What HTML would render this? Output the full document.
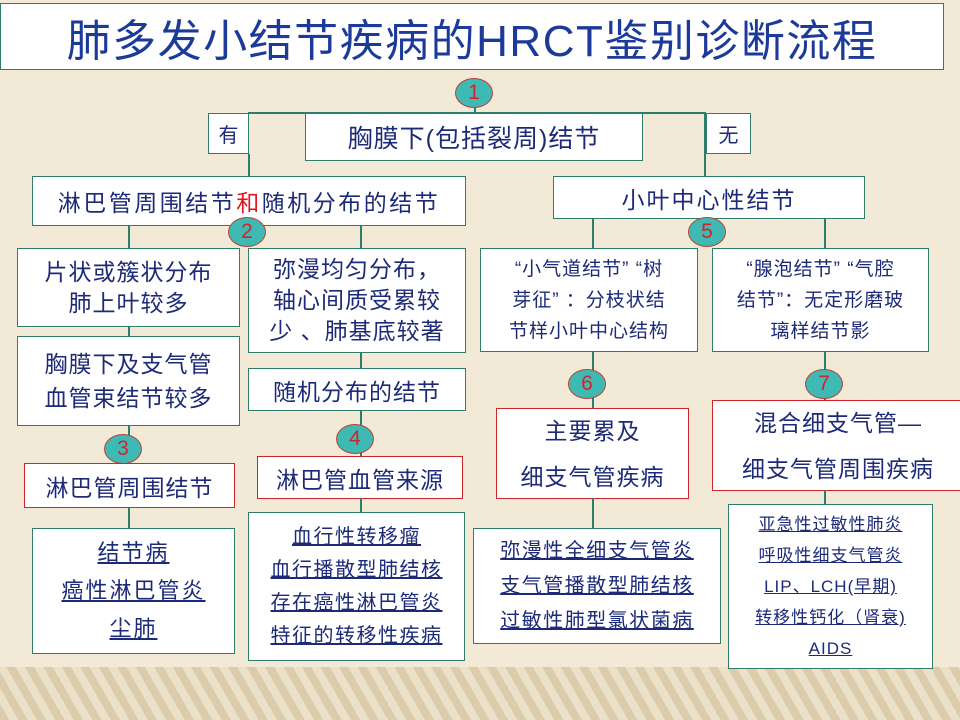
<!DOCTYPE html>
<html><head><meta charset="utf-8"><style>
body{margin:0}
#c{position:relative;width:960px;height:720px;overflow:hidden;background:#f2e9d6;font-family:"Liberation Sans","Noto Sans CJK SC",sans-serif;color:#1c2a78}
.b{position:absolute;background:#fff;border:1.5px solid #2e7d6a;box-sizing:border-box;display:flex;flex-direction:column;align-items:center;justify-content:center;text-align:center}
.r{border-color:#d0252b}
.l{position:absolute;background:#2e7d6a}
.o{position:absolute;width:38px;height:30px;border-radius:50%;background:#3fb9b4;border:1.5px solid #b5453a;box-sizing:border-box;color:#d0252b;font-size:21px;display:flex;align-items:center;justify-content:center}
.u span{text-decoration:underline}
#band{position:absolute;left:0;top:667px;width:960px;height:53px;background:repeating-linear-gradient(60deg,#d9c8a4 0 8px,#eadfc6 8px 16px),#e0d0ae;opacity:.85}
</style></head><body><div id="c">
<div id="band"></div>
<div class="b" style="left:0;top:3px;width:944px;height:67px;font-size:44px;color:#1b3a9a;letter-spacing:1.5px">肺多发小结节疾病的HRCT鉴别诊断流程</div>
<div class="l" style="left:248px;top:112px;width:458px;height:1.5px"></div>
<div class="l" style="left:474px;top:105px;width:1.5px;height:8px"></div>
<div class="o" style="left:455px;top:78px">1</div>
<div class="b" style="left:208px;top:113px;width:41px;height:41px;font-size:20px">有</div>
<div class="b" style="left:305px;top:113px;width:338px;height:48px;font-size:25px;letter-spacing:1px">胸膜下(包括裂周)结节</div>
<div class="b" style="left:706px;top:113px;width:45px;height:41px;font-size:20px">无</div>
<div class="l" style="left:248px;top:154px;width:1.5px;height:22px"></div>
<div class="l" style="left:704px;top:113px;width:1.5px;height:63px"></div>
<div class="b" style="left:32px;top:176px;width:434px;height:50px;font-size:23px;letter-spacing:2.5px"><div>淋巴管周围结节<span style="color:#e0141b">和</span>随机分布的结节</div></div>
<div class="b" style="left:553px;top:176px;width:312px;height:43px;font-size:23px;letter-spacing:2px">小叶中心性结节</div>
<div class="l" style="left:128px;top:225px;width:1.5px;height:23px"></div>
<div class="l" style="left:360px;top:225px;width:1.5px;height:23px"></div>
<div class="l" style="left:592px;top:218px;width:1.5px;height:30px"></div>
<div class="l" style="left:824px;top:218px;width:1.5px;height:30px"></div>
<div class="o" style="left:228px;top:217px">2</div>
<div class="o" style="left:688px;top:217px">5</div>
<div class="b" style="left:17px;top:248px;width:223px;height:79px;font-size:23px;line-height:31px;letter-spacing:1px">片状或簇状分布<br>肺上叶较多</div>
<div class="l" style="left:128px;top:326px;width:1.5px;height:10px"></div>
<div class="b" style="left:17px;top:336px;width:223px;height:90px;font-size:23px;line-height:34px;letter-spacing:1px">胸膜下及支气管<br>血管束结节较多</div>
<div class="b" style="left:248px;top:248px;width:218px;height:105px;font-size:23px;line-height:31px;letter-spacing:1px">弥漫均匀分布，<br>轴心间质受累较<br>少 、肺基底较著</div>
<div class="l" style="left:360px;top:352px;width:1.5px;height:16px"></div>
<div class="b" style="left:248px;top:368px;width:218px;height:43px;font-size:23px;letter-spacing:1px">随机分布的结节</div>
<div class="l" style="left:128px;top:425px;width:1.5px;height:38px"></div>
<div class="l" style="left:360px;top:410px;width:1.5px;height:46px"></div>
<div class="o" style="left:104px;top:434px">3</div>
<div class="o" style="left:336px;top:424px">4</div>
<div class="b r" style="left:24px;top:463px;width:211px;height:45px;font-size:23px;letter-spacing:1px">淋巴管周围结节</div>
<div class="b r" style="left:257px;top:456px;width:206px;height:43px;font-size:23px;letter-spacing:1px">淋巴管血管来源</div>
<div class="l" style="left:128px;top:507px;width:1.5px;height:21px"></div>
<div class="l" style="left:360px;top:498px;width:1.5px;height:14px"></div>
<div class="b u" style="left:32px;top:528px;width:203px;height:126px;font-size:22px;line-height:38px;letter-spacing:2px"><span>结节病</span><span>癌性淋巴管炎</span><span>尘肺</span></div>
<div class="b u" style="left:248px;top:512px;width:217px;height:149px;font-size:20px;line-height:33px;letter-spacing:1.5px"><span>血行性转移瘤</span><span>血行播散型肺结核</span><span>存在癌性淋巴管炎</span><span>特征的转移性疾病</span></div>
<div class="b" style="left:480px;top:248px;width:218px;height:104px;font-size:19px;line-height:31px;letter-spacing:1px">“小气道结节” “树<br>芽征” ：分枝状结<br>节样小叶中心结构</div>
<div class="b" style="left:712px;top:248px;width:217px;height:104px;font-size:19px;line-height:31px;letter-spacing:1px">“腺泡结节” “气腔<br>结节”：无定形磨玻<br>璃样结节影</div>
<div class="l" style="left:592px;top:351px;width:1.5px;height:57px"></div>
<div class="l" style="left:824px;top:351px;width:1.5px;height:49px"></div>
<div class="o" style="left:568px;top:369px">6</div>
<div class="o" style="left:805px;top:369px">7</div>
<div class="b r" style="left:496px;top:408px;width:193px;height:91px;font-size:23px;line-height:46px;letter-spacing:1px">主要累及<br>细支气管疾病</div>
<div class="b r" style="left:712px;top:400px;width:252px;height:91px;font-size:23px;line-height:46px;letter-spacing:1px">混合细支气管—<br>细支气管周围疾病</div>
<div class="l" style="left:592px;top:498px;width:1.5px;height:30px"></div>
<div class="l" style="left:824px;top:490px;width:1.5px;height:14px"></div>
<div class="b u" style="left:473px;top:528px;width:248px;height:116px;font-size:20px;line-height:35px;letter-spacing:1.5px"><span>弥漫性全细支气管炎</span><span>支气管播散型肺结核</span><span>过敏性肺型氯状菌病</span></div>
<div class="b u" style="left:728px;top:504px;width:205px;height:165px;font-size:17px;line-height:31px;letter-spacing:1px"><span>亚急性过敏性肺炎</span><span>呼吸性细支气管炎</span><span>LIP、LCH(早期)</span><span>转移性钙化（肾衰)</span><span>AIDS</span></div>
</div></body></html>
